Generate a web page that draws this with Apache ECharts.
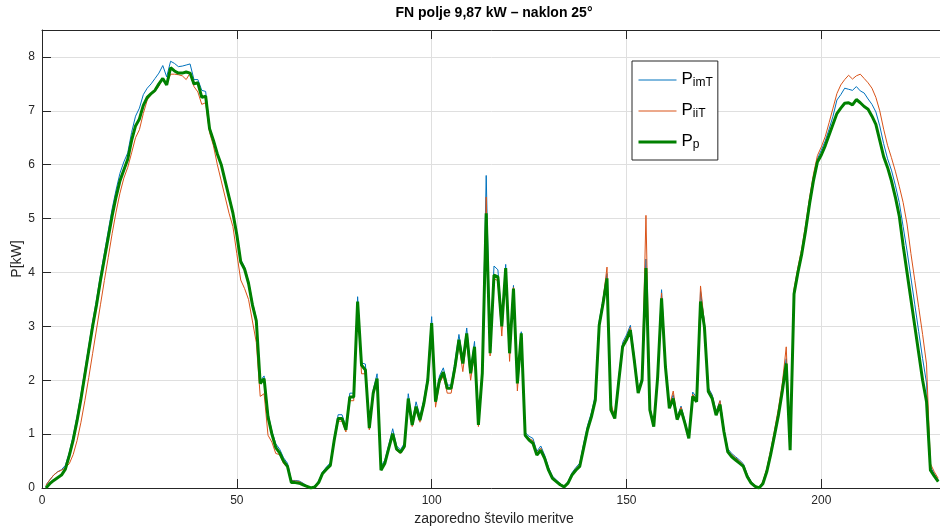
<!DOCTYPE html>
<html>
<head>
<meta charset="utf-8">
<title>FN polje</title>
<script src="https://cdn.jsdelivr.net/npm/echarts@6/dist/echarts.min.js"></script>
<style>
  html, body { margin: 0; padding: 0; background: #fff; }
  #chart { width: 940px; height: 527px; }
</style>
</head>
<body>
<div id="chart"></div>
<script>
// zaporedno stevilo meritve starts at 1
const xStart = 1;

// P_imT (blue)
const pImT = [
  0.05, 0.15, 0.24, 0.30, 0.34, 0.42, 0.66, 0.97, 1.33, 1.74,
  2.19, 2.64, 3.09, 3.50, 3.95, 4.36, 4.77, 5.18, 5.53, 5.84,
  6.05, 6.22, 6.60, 6.90, 7.05, 7.30, 7.42, 7.50, 7.60, 7.70,
  7.84, 7.63, 7.92, 7.88, 7.82, 7.83, 7.85, 7.87, 7.58, 7.58,
  7.38, 7.36, 6.70, 6.47, 6.22, 6.02, 5.72, 5.43, 5.13, 4.73,
  4.24, 4.10, 3.84, 3.45, 3.15, 1.99, 2.08, 1.38, 1.06, 0.82,
  0.72, 0.56, 0.46, 0.14, 0.14, 0.13, 0.09, 0.04, 0.00, 0.04,
  0.13, 0.30, 0.39, 0.47, 0.93, 1.36, 1.36, 1.14, 1.76, 1.76,
  3.55, 2.32, 2.30, 1.16, 1.82, 2.12, 0.40, 0.52, 0.80, 1.10,
  0.78, 0.71, 0.83, 1.75, 1.22, 1.60, 1.33, 1.64, 2.08, 3.18,
  1.66, 2.08, 2.23, 1.91, 1.91, 2.35, 2.85, 2.38, 2.97, 2.20,
  2.72, 1.22, 2.20, 5.80, 2.56, 4.12, 4.05, 3.10, 4.15, 2.58,
  3.76, 2.00, 2.90, 1.03, 0.96, 0.92, 0.68, 0.78, 0.61, 0.38,
  0.22, 0.15, 0.08, 0.03, 0.12, 0.28, 0.38, 0.46, 0.82, 1.16,
  1.40, 1.72, 3.10, 3.52, 3.98, 1.52, 1.34, 2.04, 2.70, 2.84,
  3.02, 2.44, 1.82, 2.06, 4.25, 1.50, 1.18, 2.12, 3.68, 2.32,
  1.54, 1.73, 1.32, 1.52, 1.25, 0.96, 1.78, 1.68, 3.65, 3.08,
  1.86, 1.73, 1.42, 1.62, 1.10, 0.73, 0.64, 0.58, 0.52, 0.45,
  0.25, 0.12, 0.04, 0.00, 0.11, 0.34, 0.67, 1.04, 1.42, 1.88,
  2.40, 0.74, 3.66, 4.06, 4.40, 4.85, 5.35, 5.78, 6.11, 6.27,
  6.44, 6.66, 6.90, 7.20, 7.30, 7.42, 7.40, 7.38, 7.45, 7.37,
  7.33, 7.22, 7.12, 6.98, 6.72, 6.39, 6.11, 5.90, 5.62, 5.30,
  4.85, 4.40, 3.90, 3.40, 2.90, 2.40, 1.95, 0.40, 0.26, 0.15
];

// P_iiT (orange)
const pIiT = [
  0.05, 0.15, 0.24, 0.30, 0.33, 0.38, 0.45, 0.62, 0.88, 1.22,
  1.62, 2.05, 2.50, 2.95, 3.40, 3.85, 4.28, 4.72, 5.12, 5.47,
  5.75, 5.95, 6.22, 6.50, 6.65, 6.95, 7.20, 7.30, 7.36, 7.46,
  7.60, 7.50, 7.68, 7.68, 7.67, 7.65, 7.58, 7.70, 7.45, 7.35,
  7.12, 7.15, 6.60, 6.35, 6.00, 5.70, 5.40, 5.10, 4.85, 4.35,
  3.86, 3.70, 3.50, 3.10, 2.70, 1.70, 1.75, 0.98, 0.85, 0.64,
  0.62, 0.45, 0.38, 0.13, 0.13, 0.12, 0.08, 0.03, 0.00, 0.03,
  0.12, 0.28, 0.36, 0.42, 0.85, 1.24, 1.24, 1.04, 1.62, 1.62,
  3.40, 2.12, 2.12, 1.08, 1.72, 1.98, 0.36, 0.48, 0.74, 0.98,
  0.70, 0.64, 0.74, 1.60, 1.14, 1.46, 1.22, 1.52, 1.94, 3.00,
  1.50, 1.94, 2.08, 1.76, 1.76, 2.18, 2.66, 2.16, 2.76, 2.00,
  2.50, 1.14, 2.06, 5.40, 2.45, 3.88, 3.85, 2.82, 4.05, 2.35,
  3.72, 1.80, 2.85, 1.00, 0.92, 0.88, 0.65, 0.74, 0.58, 0.36,
  0.20, 0.14, 0.07, 0.02, 0.11, 0.26, 0.36, 0.43, 0.78, 1.12,
  1.36, 1.68, 3.05, 3.50, 4.10, 1.58, 1.30, 2.00, 2.66, 2.80,
  2.98, 2.42, 1.80, 2.04, 5.06, 1.48, 1.16, 2.10, 3.62, 2.30,
  1.52, 1.80, 1.30, 1.50, 1.22, 0.94, 1.74, 1.64, 3.75, 3.05,
  1.84, 1.70, 1.40, 1.62, 1.08, 0.70, 0.62, 0.56, 0.50, 0.43,
  0.24, 0.11, 0.04, 0.00, 0.12, 0.36, 0.70, 1.08, 1.48, 1.95,
  2.62, 0.75, 3.70, 4.10, 4.45, 4.90, 5.40, 5.83, 6.17, 6.33,
  6.52, 6.78, 7.05, 7.32, 7.48, 7.58, 7.66, 7.59, 7.65, 7.68,
  7.60, 7.52, 7.42, 7.25, 7.00, 6.66, 6.36, 6.13, 5.88, 5.60,
  5.30, 4.90, 4.35, 3.85, 3.35, 2.85, 2.30, 0.45, 0.30, 0.18
];

// P_p (green, thick)
const pP = [
  0.00, 0.08, 0.14, 0.19, 0.24, 0.35, 0.60, 0.89, 1.25, 1.65,
  2.10, 2.55, 3.00, 3.40, 3.85, 4.25, 4.65, 5.05, 5.40, 5.70,
  5.90, 6.10, 6.45, 6.72, 6.85, 7.10, 7.25, 7.32, 7.38, 7.50,
  7.60, 7.48, 7.80, 7.74, 7.70, 7.70, 7.72, 7.70, 7.50, 7.52,
  7.25, 7.27, 6.67, 6.45, 6.20, 6.00, 5.70, 5.40, 5.10, 4.70,
  4.20, 4.06, 3.80, 3.40, 3.10, 1.94, 2.03, 1.32, 1.00, 0.75,
  0.65, 0.50, 0.40, 0.10, 0.10, 0.09, 0.06, 0.03, 0.00, 0.02,
  0.10, 0.27, 0.35, 0.42, 0.89, 1.29, 1.29, 1.08, 1.69, 1.69,
  3.46, 2.28, 2.19, 1.11, 1.76, 2.03, 0.33, 0.46, 0.74, 1.01,
  0.72, 0.66, 0.77, 1.66, 1.17, 1.51, 1.26, 1.57, 2.00, 3.06,
  1.60, 2.00, 2.15, 1.85, 1.85, 2.25, 2.75, 2.31, 2.87, 2.13,
  2.62, 1.17, 2.13, 5.10, 2.50, 3.95, 3.92, 3.00, 4.08, 2.50,
  3.70, 1.94, 2.87, 0.98, 0.89, 0.83, 0.61, 0.70, 0.55, 0.33,
  0.18, 0.12, 0.06, 0.02, 0.09, 0.24, 0.33, 0.40, 0.74, 1.08,
  1.32, 1.63, 3.02, 3.43, 3.89, 1.45, 1.29, 1.97, 2.62, 2.75,
  2.93, 2.37, 1.76, 2.00, 4.08, 1.45, 1.14, 2.06, 3.52, 2.25,
  1.48, 1.66, 1.27, 1.45, 1.20, 0.92, 1.70, 1.60, 3.46, 2.99,
  1.79, 1.66, 1.35, 1.55, 1.05, 0.67, 0.58, 0.52, 0.46, 0.40,
  0.21, 0.09, 0.03, 0.00, 0.08, 0.30, 0.62, 0.98, 1.35, 1.80,
  2.31, 0.70, 3.60, 4.00, 4.35, 4.79, 5.28, 5.71, 6.05, 6.18,
  6.35, 6.55, 6.75, 6.95, 7.05, 7.14, 7.15, 7.11, 7.21, 7.15,
  7.08, 7.03, 6.90, 6.75, 6.45, 6.15, 5.95, 5.70, 5.40, 5.05,
  4.50, 4.00, 3.50, 3.00, 2.50, 2.00, 1.60, 0.33, 0.22, 0.12
];

const subs = { P_imT: "imT", P_iiT: "iiT", P_p: "p" };

const font = "'Liberation Sans', Arial, Helvetica, sans-serif";
const axisColor = "#262626";
const gridColor = "#dfdfdf";

function toPairs(arr) {
  return arr.map((v, i) => [xStart + i, v]);
}

const chart = echarts.init(document.getElementById("chart"), null, { renderer: "canvas" });

chart.setOption({
  animation: false,
  backgroundColor: "#fff",
  textStyle: { fontFamily: font },
  graphic: [
    {
      type: "text",
      x: 494,
      y: 13,
      style: {
        text: "FN polje 9,87 kW \u2013 naklon 25\u00b0",
        textAlign: "center",
        textVerticalAlign: "middle",
        font: "bold 14px " + font,
        fill: "#000",
      },
    },
  ],
  grid: { left: 42, right: -6, top: 30, bottom: 39, outerBoundsMode: "none", containLabel: false },
  legend: {
    orient: "vertical",
    left: 632,
    top: 61,
    padding: [4, 5, 9, 5],
    itemGap: 7,
    itemWidth: 38,
    itemHeight: 14,
    backgroundColor: "#fff",
    borderColor: axisColor,
    borderWidth: 1,
    borderRadius: 0,
    // hide the legend symbol, keep only the line
    itemStyle: { opacity: 0, borderWidth: 0 },
    data: [
      { name: "P_imT", lineStyle: { width: 1, opacity: 1 } },
      { name: "P_iiT", lineStyle: { width: 1, opacity: 1 } },
      { name: "P_p", lineStyle: { width: 3, opacity: 1 } },
    ],
    formatter: (name) => "{p|P}{s|" + subs[name] + "}",
    textStyle: {
      rich: {
        p: { fontSize: 17, color: "#000", fontFamily: font, lineHeight: 18, verticalAlign: "top" },
        s: { fontSize: 12, color: "#000", fontFamily: font, lineHeight: 12, padding: [12, 0, 0, 0], verticalAlign: "bottom" },
      },
    },
  },
  xAxis: [
    {
      type: "value",
      min: 0,
      max: 232,
      interval: 50,
      name: "zaporedno \u0161tevilo meritve",
      nameLocation: "middle",
      nameGap: 24,
      nameMoveOverlap: false,
      nameTextStyle: { fontSize: 14, color: axisColor, fontFamily: font },
      axisLine: { show: true, onZero: false, lineStyle: { color: axisColor, width: 1 } },
      axisTick: { show: true, inside: true, length: 9, lineStyle: { color: axisColor } },
      axisLabel: {
        margin: 7,
        fontSize: 12,
        color: axisColor,
        formatter: (v) => (v % 50 === 0 ? String(v) : ""),
      },
      splitLine: { show: true, lineStyle: { color: gridColor, width: 1 } },
    },
    {
      // top border of the box with ticks
      type: "value",
      position: "top",
      min: 0,
      max: 232,
      interval: 50,
      axisLine: { show: true, onZero: false, lineStyle: { color: axisColor, width: 1 } },
      axisTick: { show: true, inside: true, length: 9, lineStyle: { color: axisColor } },
      axisLabel: { show: false },
      splitLine: { show: false },
    },
  ],
  yAxis: {
    type: "value",
    min: 0,
    max: 8.5,
    interval: 1,
    name: "P[kW]",
    nameLocation: "middle",
    nameGap: 18,
    nameMoveOverlap: false,
    nameTextStyle: { fontSize: 14, color: axisColor, fontFamily: font },
    axisLine: { show: true, onZero: false, lineStyle: { color: axisColor, width: 1 } },
    axisTick: { show: true, inside: true, length: 9, lineStyle: { color: axisColor } },
    axisLabel: {
      margin: 7,
      fontSize: 12,
      color: axisColor,
      formatter: (v) => (Number.isInteger(v) ? String(v) : ""),
    },
    splitLine: { show: true, lineStyle: { color: gridColor, width: 1 } },
  },
  series: [
    {
      name: "P_imT",
      type: "line",
      data: toPairs(pImT),
      symbol: "none",
      color: "#0072BD",
      lineStyle: { width: 1, color: "#0072BD" },
      z: 2,
    },
    {
      name: "P_iiT",
      type: "line",
      data: toPairs(pIiT),
      symbol: "none",
      color: "#D95319",
      lineStyle: { width: 1, color: "#D95319" },
      z: 3,
    },
    {
      name: "P_p",
      type: "line",
      data: toPairs(pP),
      symbol: "none",
      color: "#008000",
      lineStyle: { width: 3, color: "#008000" },
      z: 4,
    },
  ],
});
</script>
</body>
</html>
